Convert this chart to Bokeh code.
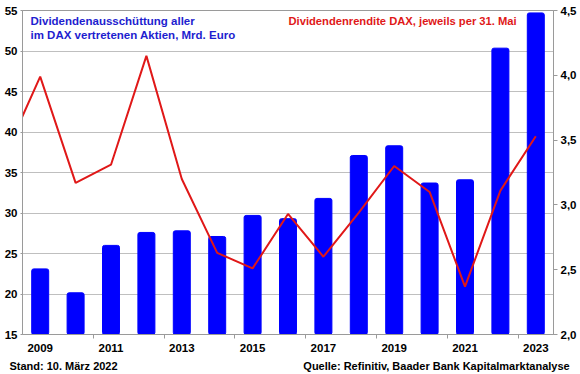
from bokeh.plotting import figure
from bokeh.models import (Range1d, LinearAxis, FixedTicker, CustomJSTickFormatter,
                          Label, ColumnDataSource)
from bokeh.embed import file_html
from bokeh.resources import INLINE

# ---- data ----
years = [2009, 2010, 2011, 2012, 2013, 2014, 2015, 2016, 2017, 2018, 2019, 2020, 2021, 2022, 2023]
payout_bn_eur = [23.1, 20.15, 26.0, 27.6, 27.8, 27.1, 29.7, 29.3, 31.8, 37.1, 38.3, 33.7, 34.1, 50.35, 54.7]
yield_years = [2008, 2009, 2010, 2011, 2012, 2013, 2014, 2015, 2016, 2017, 2018, 2019, 2020, 2021, 2022, 2023]
yield_pct = [3.38, 3.99, 3.17, 3.31, 4.15, 3.20, 2.63, 2.51, 2.93, 2.60, 2.94, 3.30, 3.10, 2.37, 3.11, 3.53]
x_label_years = [2009, 2011, 2013, 2015, 2017, 2019, 2021, 2023]
x_minor_ticks = [2010.5, 2012.5, 2014.5, 2016.5, 2018.5, 2020.5, 2022.5]
left_ticks = [15, 20, 25, 30, 35, 40, 45, 50, 55]
right_ticks = [2.0, 2.5, 3.0, 3.5, 4.0, 4.5]

title_left_1 = "Dividendenausschüttung aller"
title_left_2 = "im DAX vertretenen Aktien, Mrd. Euro"
title_right = "Dividendenrendite DAX, jeweils per 31. Mai"
footer_left = "Stand: 10. März 2022"
footer_right = "Quelle: Refinitiv, Baader Bank Kapitalmarktanalyse"

FONT = "Liberation Sans"
GRID = "#BFBFBF"
AXIS = "#9A9A9A"
BLUE = "#0000FF"
RED = "#E01818"

X0, X1 = 2008.5, 2023.5
p = figure(width=588, height=382, output_backend="svg", toolbar_location=None,
           x_range=Range1d(X0, X1), y_range=Range1d(15, 55),
           min_border_left=30, min_border_right=27, min_border_top=18, min_border_bottom=40,
           margin=(-8, 0, 0, -8))
p.extra_y_ranges = {"yield": Range1d(2.0, 4.5)}

bars = ColumnDataSource(dict(x=years, top=payout_bn_eur))
p.vbar(x="x", top="top", bottom=15, width=0.48, source=bars, color=BLUE,
       line_color=BLUE, border_radius=2)

line = ColumnDataSource(dict(x=yield_years, y=yield_pct))
p.line(x="x", y="y", source=line, y_range_name="yield", line_color=RED, line_width=2)

# axes
p.xaxis.ticker = FixedTicker(ticks=x_label_years, minor_ticks=x_minor_ticks)
p.xaxis.major_tick_line_color = None
p.xaxis.minor_tick_out = 4
p.xaxis.minor_tick_in = 0
p.xaxis.minor_tick_line_color = AXIS
p.xaxis.axis_line_color = AXIS
p.xaxis.major_label_standoff = 3
p.xaxis.major_label_text_font = FONT
p.xaxis.major_label_text_font_style = "bold"
p.xaxis.major_label_text_font_size = "11.5px"
p.xaxis.major_label_text_color = "black"

p.yaxis.ticker = FixedTicker(ticks=left_ticks, minor_ticks=[])
p.yaxis.major_tick_out = 2
p.yaxis.major_tick_in = 0
p.yaxis.major_tick_line_color = AXIS
p.yaxis.axis_line_color = AXIS
p.yaxis.major_label_standoff = 3
p.yaxis.major_label_text_font = FONT
p.yaxis.major_label_text_font_style = "bold"
p.yaxis.major_label_text_font_size = "11.5px"
p.yaxis.major_label_text_color = "black"

ax2 = LinearAxis(y_range_name="yield",
                 ticker=FixedTicker(ticks=right_ticks, minor_ticks=[]),
                 formatter=CustomJSTickFormatter(code="return tick.toFixed(1).replace('.', ',');"))
ax2.major_tick_out = 4
ax2.major_tick_in = 0
ax2.major_tick_line_color = AXIS
ax2.axis_line_color = AXIS
ax2.major_label_standoff = 3
ax2.major_label_text_font = FONT
ax2.major_label_text_font_style = "bold"
ax2.major_label_text_font_size = "11.5px"
ax2.major_label_text_color = "black"
p.add_layout(ax2, "right")

# footer line as a second, line-less bottom axis (texts centred at screen positions)
px_per_year = 531 / (X1 - X0)
foot_left_x = X0 + (63 - 22) / px_per_year
foot_right_x = X0 + (436 - 22) / px_per_year
foot_axis = LinearAxis(ticker=FixedTicker(ticks=[foot_left_x, foot_right_x], minor_ticks=[]),
                       formatter=CustomJSTickFormatter(
                           args=dict(a=footer_left, b=footer_right),
                           code="return index == 0 ? a : b;"))
foot_axis.axis_line_color = None
foot_axis.major_tick_line_color = None
foot_axis.minor_tick_line_color = None
foot_axis.major_tick_out = 0
foot_axis.major_tick_in = 0
foot_axis.major_label_standoff = 5
foot_axis.major_label_text_font = FONT
foot_axis.major_label_text_font_style = "bold"
foot_axis.major_label_text_font_size = "11px"
foot_axis.major_label_text_color = "black"
p.add_layout(foot_axis, "below")

p.xgrid.grid_line_color = None
p.ygrid.grid_line_color = GRID
p.ygrid.grid_line_width = 1
p.outline_line_color = AXIS
p.background_fill_color = "white"
p.border_fill_color = "white"

# titles inside the frame
def add_label(text, x, y, color, align="left", size="11.5px"):
    p.add_layout(Label(x=x, y=y, x_units="screen", y_units="screen", text=text,
                       text_font=FONT, text_font_style="bold", text_font_size=size,
                       text_color=color, text_align=align, text_baseline="middle"))

add_label(title_left_1, 8, 314, "#1E1ECF")
add_label(title_left_2, 8, 300, "#1E1ECF")
add_label(title_right, 266, 314, "#E01818", size="11.2px")

open("out.html", "w").write(file_html(p, INLINE))
